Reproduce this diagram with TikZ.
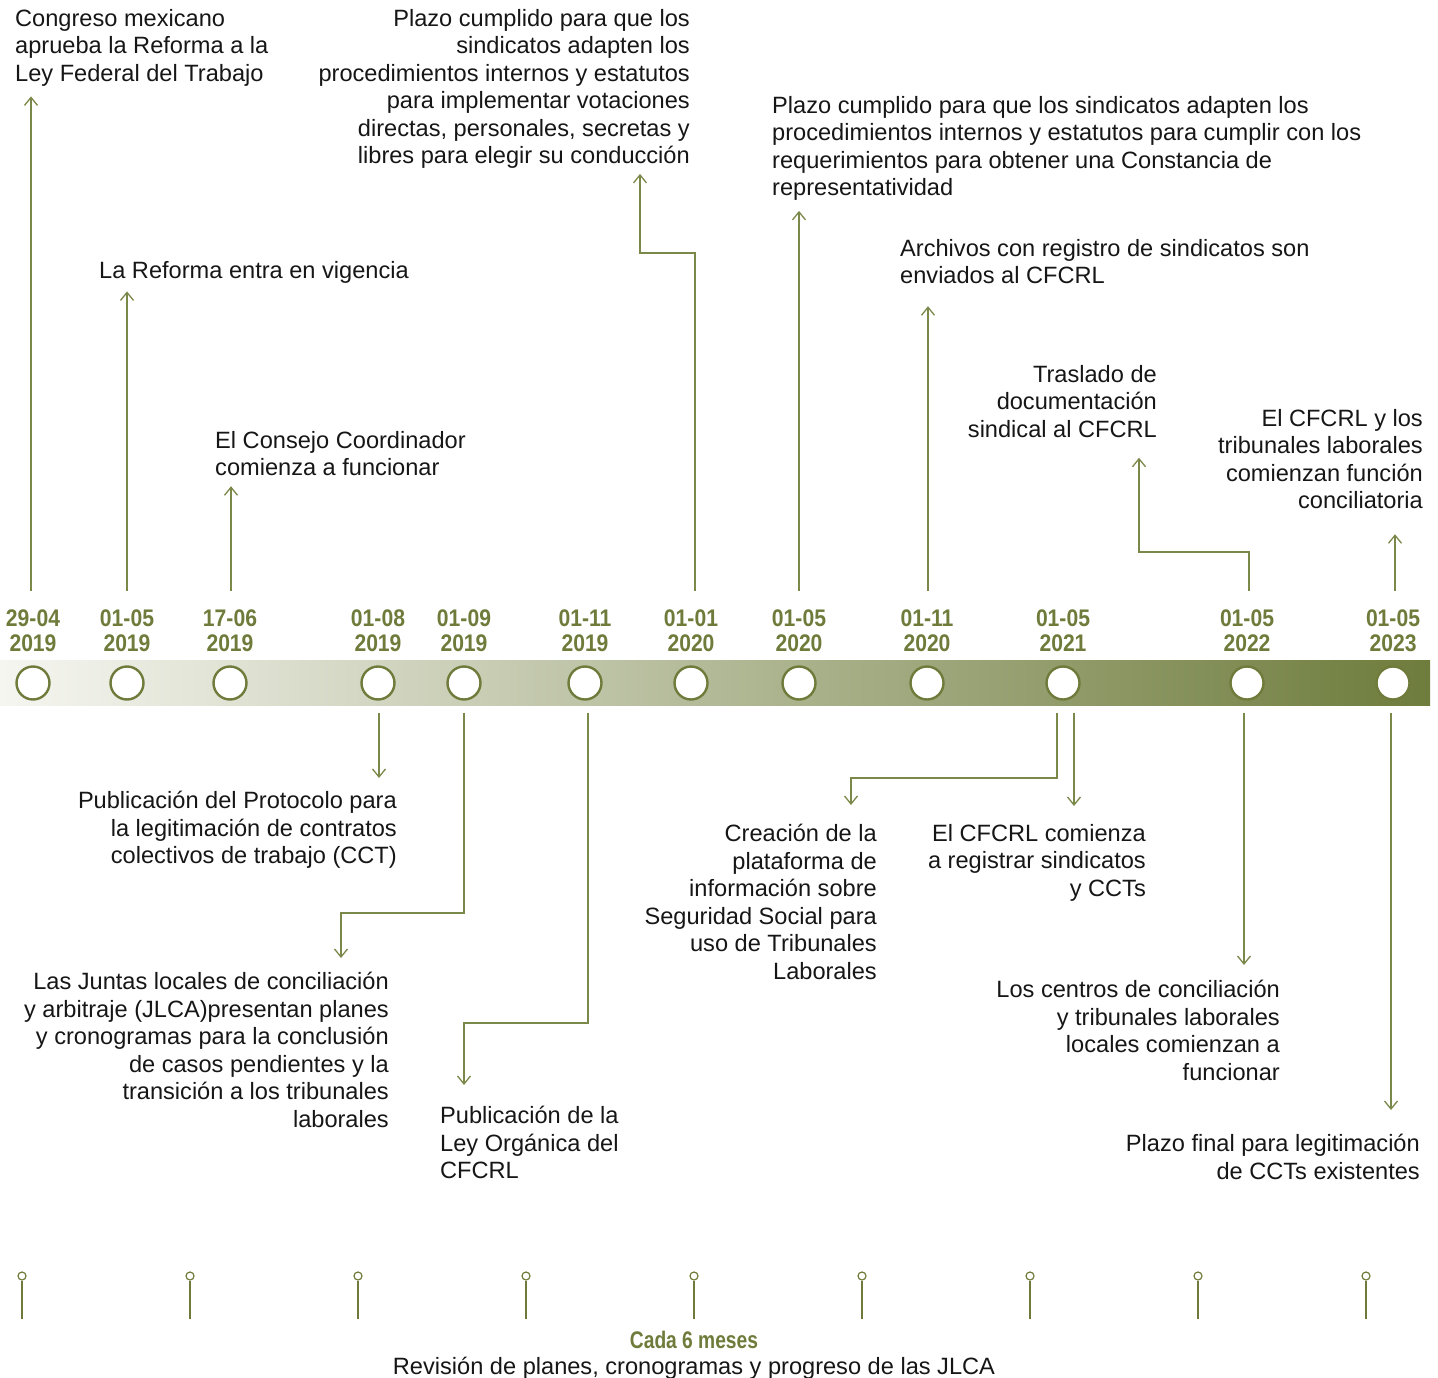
\documentclass[tikz,border=0pt]{standalone}
\usepackage{fontspec}
\setmainfont{Liberation Sans}
\newfontfamily\datefont[FakeStretch=0.88]{Liberation Sans}
\newfontfamily\cadafont[FakeStretch=0.8]{Liberation Sans}
\usetikzlibrary{arrows.meta,calc}
\definecolor{olv}{RGB}{111,123,59}
\definecolor{arrc}{RGB}{122,136,74}
\definecolor{barL}{RGB}{246,246,241}
\definecolor{barR}{RGB}{110,124,60}
\definecolor{txtc}{RGB}{22,22,22}
\begin{document}
\begin{tikzpicture}[x=1pt,y=-1pt,
  evc/.style={circle,minimum size=33pt,inner sep=0pt,draw=olv,line width=2.4pt,fill=white},
  datel/.style={align=center,inner sep=0pt,text=olv,font=\datefont\bfseries\fontsize{24}{25}\selectfont},
  txt/.style={inner sep=0pt,text=txtc,font=\fontsize{23.6}{27.5}\selectfont},
  arr/.style={draw=arrc,line width=1.3pt,-{Straight Barb[length=8pt,width=13pt,line width=1.3pt]}},
  pinc/.style={circle,minimum size=8pt,inner sep=0pt,draw=olv,line width=1.2pt,fill=white},
  pinl/.style={draw=olv,line width=2.3pt}
]
\useasboundingbox (0,0) rectangle (1438,1378);

% bar
\shade[left color=barL,right color=barR] (0,660) rectangle (1430,705);

% event circles and dates
\foreach \n/\x/\d/\y in {1/33/29-04/2019,2/127/01-05/2019,3/230/17-06/2019,4/378/01-08/2019,
  5/464/01-09/2019,6/585/01-11/2019,7/691/01-01/2020,8/799/01-05/2020,9/927/01-11/2020,
  10/1063/01-05/2021,11/1247/01-05/2022,12/1393/01-05/2023}{
  \node[evc] (c\n) at (\x,683) {};
  \node[datel] (d\n) at (\x,631) {\d\\\y};
}

% top texts
\node[txt,anchor=north west,align=left] (t1) at (15,9) {Congreso mexicano\\aprueba la Reforma a la\\Ley Federal del Trabajo};
\node[txt,anchor=north west,align=left] (t2) at (99,261) {La Reforma entra en vigencia};
\node[txt,anchor=north west,align=left] (t3) at (215,431) {El Consejo Coordinador\\comienza a funcionar};
\node[txt,anchor=north east,align=right] (t4) at (690,9) {Plazo cumplido para que los\\sindicatos adapten los\\procedimientos internos y estatutos\\para implementar votaciones\\directas, personales, secretas y\\libres para elegir su conducción};
\node[txt,anchor=north west,align=left] (t5) at (772,96) {Plazo cumplido para que los sindicatos adapten los\\procedimientos internos y estatutos para cumplir con los\\requerimientos para obtener una Constancia de\\representatividad};
\node[txt,anchor=north west,align=left] (t6) at (900,239) {Archivos con registro de sindicatos son\\enviados al CFCRL};
\node[txt,anchor=north east,align=right] (t7) at (1157,365) {Traslado de\\documentación\\sindical al CFCRL};
\node[txt,anchor=north east,align=right] (t8) at (1423,409) {El CFCRL y los\\tribunales laborales\\comienzan función\\conciliatoria};

% bottom texts
\node[txt,anchor=north east,align=right] (b1) at (397,791) {Publicación del Protocolo para\\la legitimación de contratos\\colectivos de trabajo (CCT)};
\node[txt,anchor=north east,align=right] (b2) at (389,972) {Las Juntas locales de conciliación\\y arbitraje (JLCA)presentan planes\\y cronogramas para la conclusión\\de casos pendientes y la\\transición a los tribunales\\laborales};
\node[txt,anchor=north west,align=left] (b3) at (440,1106) {Publicación de la\\Ley Orgánica del\\CFCRL};
\node[txt,anchor=north east,align=right] (b4) at (877,824) {Creación de la\\plataforma de\\información sobre\\Seguridad Social para\\uso de Tribunales\\Laborales};
\node[txt,anchor=north east,align=right] (b5) at (1146,824) {El CFCRL comienza\\a registrar sindicatos\\y CCTs};
\node[txt,anchor=north east,align=right] (b6) at (1280,980) {Los centros de conciliación\\y tribunales laborales\\locales comienzan a\\funcionar};
\node[txt,anchor=north east,align=right] (b7) at (1420,1134) {Plazo final para legitimación\\de CCTs existentes};

% knee coordinates
\coordinate (k4) at (640,253);
\coordinate (k7) at (1139,552);
\coordinate (kB) at (341,913);
\coordinate (kC) at (464,1023);
\coordinate (kD) at (851,778);

% up arrows
\draw[arr,shorten >=10pt] ([xshift=-2pt,yshift=19pt]d1.north) -- ([xshift=-2pt]d1.north |- t1.south);
\draw[arr,shorten >=8pt] ([yshift=19pt]d2.north) -- (d2.north |- t2.south);
\draw[arr,shorten >=10pt] ([xshift=1pt,yshift=19pt]d3.north) -- ([xshift=1pt]d3.north |- t3.south);
\draw[arr,shorten >=5pt] ([xshift=4pt,yshift=19pt]d7.north) |- (k4) -- (k4 |- t4.south);
\draw[arr,shorten >=10pt] ([yshift=19pt]d8.north) -- (d8.north |- t5.south);
\draw[arr,shorten >=22pt] ([xshift=1pt,yshift=19pt]d9.north) -- ([xshift=1pt]d9.north |- t6.south);
\draw[arr,shorten >=20pt] ([xshift=2pt,yshift=19pt]d11.north) |- (k7) -- (k7 |- t7.south);
\draw[arr,shorten >=25pt] ([xshift=2pt,yshift=19pt]d12.north) -- ([xshift=2pt]d12.north |- t8.south);

% down arrows
\draw[arr,shorten >=13pt] ([xshift=1pt,yshift=-12pt]c4.south) -- ([xshift=1pt]c4.south |- b1.north);
\draw[arr,shorten >=14pt] ([yshift=-12pt]c5.south) |- (kB) -- (kB |- b2.north);
\draw[arr,shorten >=21pt] ([xshift=3pt,yshift=-12pt]c6.south) |- (kC) -- (kC |- b3.north);
\draw[arr,shorten >=19pt] ([xshift=-6pt,yshift=-12pt]c10.south) |- (kD) -- (kD |- b4.north);
\draw[arr,shorten >=18pt] ([xshift=11pt,yshift=-12pt]c10.south) -- ([xshift=11pt]c10.south |- b5.north);
\draw[arr,shorten >=15pt] ([xshift=-3pt,yshift=-12pt]c11.south) -- ([xshift=-3pt]c11.south |- b6.north);
\draw[arr,shorten >=24pt] ([xshift=-2pt,yshift=-12pt]c12.south) -- ([xshift=-2pt]c12.south |- b7.north);

% six-month pins
\foreach \i in {0,...,8}{
  \node[pinc] (p\i) at ({22+168*\i},1276) {};
  \draw[pinl] (p\i.south) -- ++(0,38);
}
\node[datel,font=\cadafont\bfseries\fontsize{24}{25}\selectfont] (cada) at (694,1340) {Cada 6 meses};
\node[txt,anchor=base] (rev) at (694,1374) {Revisión de planes, cronogramas y progreso de las JLCA};
\end{tikzpicture}
\end{document}
